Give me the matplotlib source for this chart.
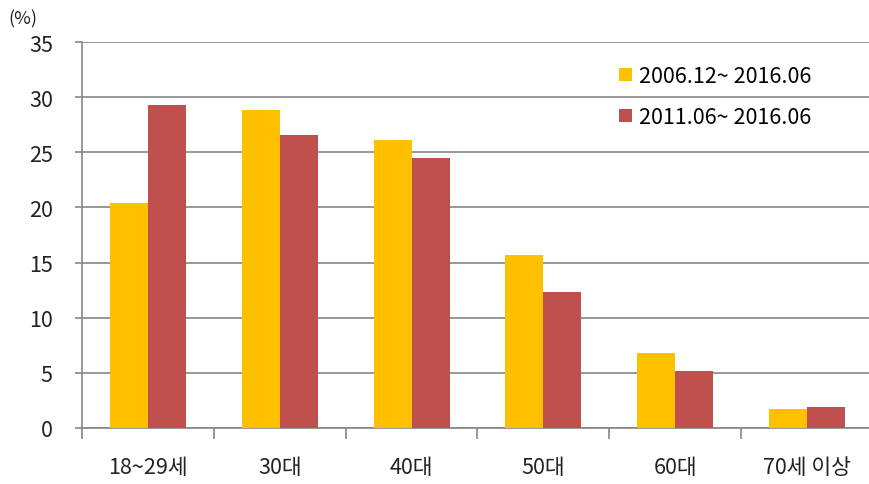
import numpy as np
import matplotlib.pyplot as plt

plt.rcParams['font.family'] = ['Noto Sans CJK KR', 'DejaVu Sans']

# age groups and share (%) for each period
age_groups = ['18~29세', '30대', '40대', '50대', '60대', '70세 이상']
period_a = [20.4, 28.8, 26.1, 15.7, 6.8, 1.7]
period_b = [29.3, 26.6, 24.5, 12.3, 5.2, 1.9]
labels = ['2006.12~ 2016.06', '2011.06~ 2016.06']

W, H = 869, 485
fig = plt.figure(figsize=(W / 100, H / 100), dpi=100)
ax = fig.add_axes([82 / W, 56 / H, (873 - 82) / W, 386 / H])

x = np.arange(len(age_groups))
bw = 0.288
ax.bar(x - bw / 2, period_a, bw, color='#FFC000', label=labels[0], zorder=3)
ax.bar(x + bw / 2, period_b, bw, color='#C0504D', label=labels[1], zorder=3)

ax.set_xlim(-0.5, len(age_groups) - 0.5)
ax.set_ylim(0, 35)
ax.set_yticks(np.arange(0, 36, 5))
ax.yaxis.grid(True, color='#868686', linewidth=1.2, zorder=0)

ax.set_xticks(x)
ax.set_xticklabels(age_groups, fontsize=15.5, color='#222222')
ax.set_xticks(np.arange(-0.5, len(age_groups)), minor=True)
ax.tick_params(axis='x', which='major', length=0, pad=20)
ax.tick_params(axis='x', which='minor', length=8, width=1.2, color='#868686')
ax.tick_params(axis='y', length=5, width=1.2, color='#868686', labelsize=15.5,
               labelcolor='#222222', pad=16)

for s in ['top', 'right']:
    ax.spines[s].set_visible(False)
for s in ['left', 'bottom']:
    ax.spines[s].set_color('#868686')
    ax.spines[s].set_linewidth(1.2)

fig.text(8 / W, 1 - 19 / H, '(%)', fontsize=13, color='#222222', va='center')

ax.legend(loc='upper left', bbox_to_anchor=(619 / W, 1 - 66 / H),
          bbox_transform=fig.transFigure, frameon=False, fontsize=15.5,
          handlelength=0.6, handleheight=0.6, handletextpad=0.35,
          labelspacing=0.88, borderaxespad=0, borderpad=0)

fig.savefig('out.png', dpi=100)
